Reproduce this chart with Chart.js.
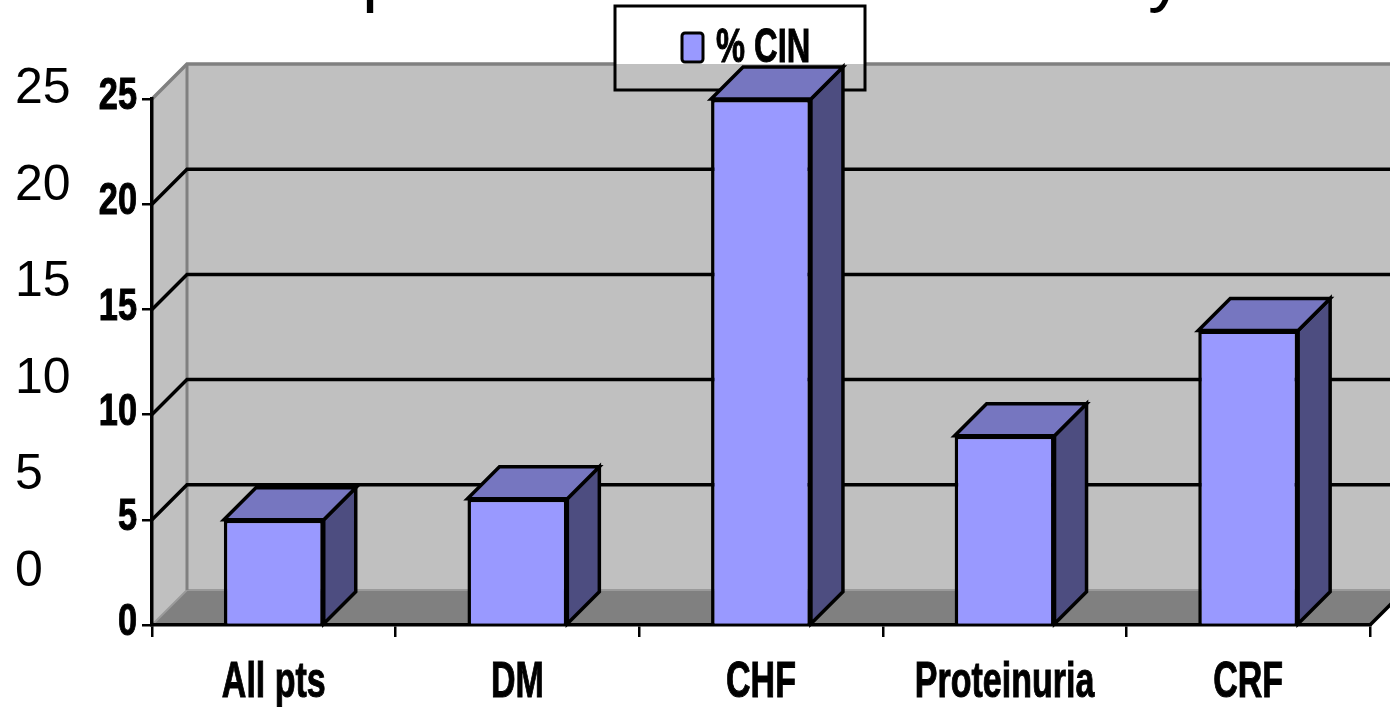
<!DOCTYPE html>
<html>
<head>
<meta charset="utf-8">
<script src="https://cdn.jsdelivr.net/npm/chart.js@4.4.1/dist/chart.umd.min.js"></script>
<style>
  html, body { margin: 0; padding: 0; background: #fff; overflow: hidden; }
  canvas { display: block; }
</style>
</head>
<body>
<canvas id="c" width="1390" height="707"></canvas>
<script>
// Contrast-induced nephropathy rate by patient subgroup
const categories = ['All pts', 'DM', 'CHF', 'Proteinuria', 'CRF'];
const cinPercent = [5, 6, 25, 9, 14];
const seriesName = '% CIN';
// Slide-level scale printed at the far left
const sideScaleLabels = ['25', '20', '15', '10', '5', '0'];
// Lower part of the slide title line that reaches into the frame
const titleGlyphs = ['p', 'y'];

// 3D look
const WALL_DEPTH = 35;
const BAR_DEPTH = 32;
const FRONT = '#9999FF', TOP = '#7676C0', SIDE = '#4D4D80';
const WALL = '#C0C0C0', FLOOR = '#808080', EDGE = '#808080', FLOOR_EDGE = '#9A9A9A';
const LINE_W = 3.5;
const legendBox = { x: 615, y: 6, w: 250, h: 84 };

function poly(ctx, pts, fill, stroke, lw) {
  ctx.beginPath();
  ctx.moveTo(pts[0][0], pts[0][1]);
  for (let i = 1; i < pts.length; i++) ctx.lineTo(pts[i][0], pts[i][1]);
  ctx.closePath();
  if (fill) { ctx.fillStyle = fill; ctx.fill(); }
  if (stroke) { ctx.strokeStyle = stroke; ctx.lineWidth = lw || 1; ctx.lineJoin = 'miter'; ctx.stroke(); }
}

function line(ctx, pts, color, lw) {
  ctx.beginPath();
  ctx.moveTo(pts[0][0], pts[0][1]);
  for (let i = 1; i < pts.length; i++) ctx.lineTo(pts[i][0], pts[i][1]);
  ctx.strokeStyle = color; ctx.lineWidth = lw; ctx.stroke();
}

// bold, horizontally condensed label with a hairline stroke for extra weight
function squeezedText(ctx, text, x, y, font, sx, align, baseline) {
  ctx.save();
  ctx.translate(x, y);
  ctx.scale(sx, 1);
  ctx.font = font;
  ctx.fillStyle = '#000';
  ctx.strokeStyle = '#000';
  ctx.lineWidth = 1;
  ctx.textAlign = align;
  ctx.textBaseline = baseline;
  ctx.fillText(text, 0, 0);
  ctx.strokeText(text, 0, 0);
  ctx.restore();
}

const scenePlugin = {
  id: 'scene',
  beforeDraw(chart) {
    const { ctx, chartArea: a, scales: { y } } = chart;
    const d = WALL_DEPTH, W = chart.width;
    ctx.save();
    // back wall
    ctx.fillStyle = WALL;
    ctx.fillRect(a.left + d, a.top - d, W - a.left - d, a.bottom - a.top);
    // side wall
    poly(ctx, [[a.left, a.bottom], [a.left, a.top], [a.left + d, a.top - d], [a.left + d, a.bottom - d]], WALL);
    // floor
    poly(ctx, [[a.left, a.bottom], [a.right, a.bottom], [a.right + d, a.bottom - d], [a.left + d, a.bottom - d]], FLOOR);
    line(ctx, [[a.left, a.bottom], [a.left + d, a.bottom - d], [W, a.bottom - d]], FLOOR_EDGE, 2);
    line(ctx, [[a.right, a.bottom], [a.right + d, a.bottom - d]], '#000', LINE_W);
    // wall corner
    line(ctx, [[a.left + d, a.top - d], [a.left + d, a.bottom - d]], EDGE, 3);
    // gridlines across side and back walls
    y.ticks.forEach(t => {
      if (t.value === y.min) return;
      const py = y.getPixelForValue(t.value);
      if (t.value === y.max) {
        line(ctx, [[a.left, py], [a.left + d, py - d], [legendBox.x, py - d]], EDGE, LINE_W);
        line(ctx, [[legendBox.x + legendBox.w, py - d], [W, py - d]], EDGE, LINE_W);
      } else {
        line(ctx, [[a.left, py], [a.left + d, py - d], [W, py - d]], '#000', LINE_W);
      }
    });
    // legend
    ctx.strokeStyle = '#000';
    ctx.lineWidth = 3;
    ctx.strokeRect(legendBox.x, legendBox.y, legendBox.w, legendBox.h);
    ctx.beginPath();
    ctx.roundRect(legendBox.x + 67, legendBox.y + 27, 21, 29, 3);
    ctx.fillStyle = FRONT; ctx.fill();
    ctx.lineWidth = 3; ctx.stroke();
    squeezedText(ctx, seriesName, legendBox.x + 101, legendBox.y + 56, 'bold 48px "Liberation Sans", Arial, sans-serif', 0.68, 'left', 'alphabetic');
    ctx.restore();
  },
  afterDatasetsDraw(chart) {
    const { ctx } = chart;
    const d = BAR_DEPTH;
    ctx.save();
    chart.getDatasetMeta(0).data.forEach(bar => {
      const p = bar.getProps(['x', 'y', 'base', 'width'], true);
      const l = p.x - p.width / 2, r = p.x + p.width / 2;
      poly(ctx, [[r, p.y], [r + d, p.y - d], [r + d, p.base - d], [r, p.base]], SIDE, '#000', LINE_W);
      poly(ctx, [[l, p.y], [l + d, p.y - d], [r + d, p.y - d], [r, p.y]], TOP, '#000', LINE_W);
    });
    ctx.restore();
  },
  afterDraw(chart) {
    const { ctx, scales: { x, y } } = chart;
    ctx.save();
    // value axis labels
    y.ticks.forEach(t => {
      squeezedText(ctx, String(t.value), 137, y.getPixelForValue(t.value) - 2,
        'bold 44px "Liberation Sans", Arial, sans-serif', 0.78, 'right', 'middle');
    });
    // category labels
    categories.forEach((c, i) => {
      squeezedText(ctx, c, x.getPixelForValue(i), 697,
        'bold 50px "Liberation Sans", Arial, sans-serif', 0.68, 'center', 'alphabetic');
    });
    // slide scale on the far left
    ctx.font = '50px "Liberation Sans", Arial, sans-serif';
    ctx.fillStyle = '#000';
    ctx.textAlign = 'left';
    ctx.textBaseline = 'alphabetic';
    sideScaleLabels.forEach((s, i) => ctx.fillText(s, 15, 103 + i * 96.6));
    // title line, mostly above the frame
    ctx.font = '72px "Liberation Sans", Arial, sans-serif';
    ctx.fillText(titleGlyphs[0], 362, -2);
    ctx.fillText(titleGlyphs[1], 1148, -2);
    ctx.restore();
  }
};

new Chart(document.getElementById('c'), {
  type: 'bar',
  data: {
    labels: categories,
    datasets: [{
      label: seriesName,
      data: cinPercent,
      backgroundColor: FRONT,
      borderColor: '#000',
      borderWidth: 3.5,
      categoryPercentage: 1,
      barPercentage: 0.41
    }]
  },
  options: {
    responsive: false,
    animation: false,
    devicePixelRatio: 1,
    layout: { padding: { top: 99, right: 20, left: 0, bottom: 0 } },
    plugins: { legend: { display: false }, tooltip: { enabled: false } },
    scales: {
      x: {
        grid: { display: true, drawOnChartArea: false, drawTicks: true, tickLength: 12, color: '#000', lineWidth: 2.5, offset: true },
        border: { display: true, color: '#000', width: 3.5 },
        ticks: { display: false },
        afterFit(s) { s.height = 82; }
      },
      y: {
        min: 0, max: 25,
        grid: { display: true, drawOnChartArea: false, drawTicks: true, tickLength: 10, color: '#000', lineWidth: 2.5 },
        border: { display: true, color: '#000', width: 3.5 },
        ticks: { display: false, stepSize: 5 },
        afterFit(s) { s.width = 152; }
      }
    }
  },
  plugins: [scenePlugin]
});
</script>
</body>
</html>
